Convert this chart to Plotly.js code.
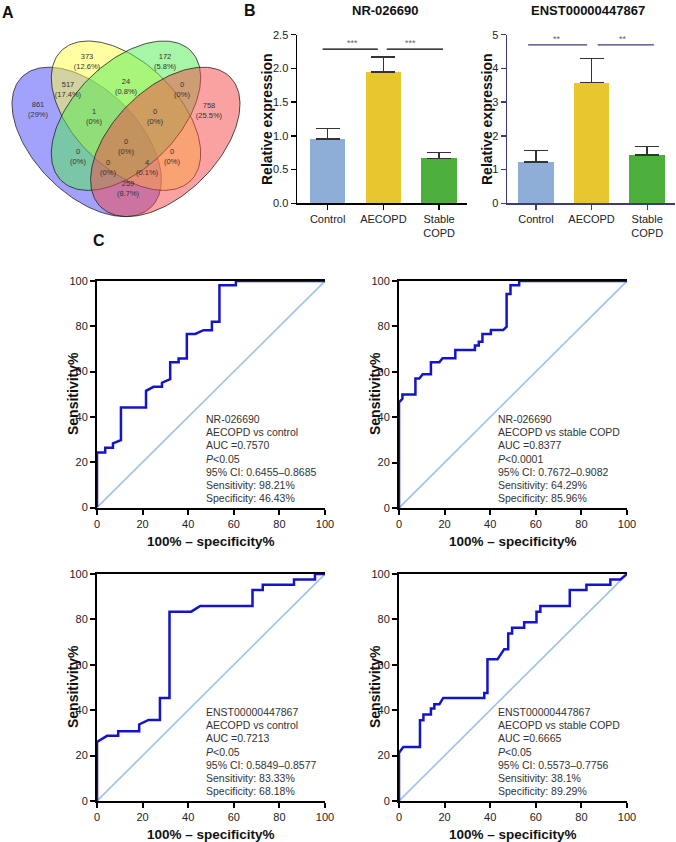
<!DOCTYPE html>
<html><head><meta charset="utf-8">
<script src="https://cdn.plot.ly/plotly-3.0.1.min.js"></script>
<style>html,body{margin:0;padding:0;background:#fff;}#chart{width:676px;height:842px;}</style>
</head><body><div id="chart"></div>
<script>
const W = 676, H = 842;

// ---------- Panel A: Venn data ----------
const vennCounts = [861, 373, 172, 758, 517, 24, 0, 1, 0, 0, 0, 0, 0, 4, 259];
const vennPercents = ['29%', '12.6%', '5.8%', '25.5%', '17.4%', '0.8%', '0%', '0%', '0%', '0%', '0%', '0%', '0%', '0.1%', '8.7%'];

// ---------- Panel B: bar data ----------
const barCategories = ['Control', 'AECOPD', 'Stable<br>COPD'];
const nrMeans = [0.953, 1.95, 0.667];
const nrErrors = [0.157, 0.22, 0.083];
const enstMeans = [1.22, 3.58, 1.43];
const enstErrors = [0.34, 0.72, 0.25];
const barColors = ['#8eaed8', '#e8c630', '#4caf3c'];

// ---------- Panel C: ROC data ----------
const roc1X = [0, 0, 3.6, 3.6, 7.0, 7.0, 10.5, 10.5, 21.5, 21.5, 24.8, 28.5, 28.5, 32.1, 32.1, 35.8, 35.8, 39.4, 39.4, 43.1, 46.7, 50.4, 50.4, 53.7, 53.7, 60.9, 60.9, 100];
const roc1Y = [0, 24.3, 24.3, 26.4, 26.4, 28.3, 29.7, 44.2, 44.2, 51.5, 53.3, 53.3, 55.1, 56.7, 64.1, 64.1, 65.8, 65.8, 76.6, 76.6, 78.3, 78.3, 82.0, 82.0, 98.1, 98.1, 100, 100];
const roc2X = [0, 0, 1.5, 1.5, 7.2, 7.2, 8.9, 10.4, 14.0, 14.0, 17.7, 19.1, 24.7, 24.7, 33.3, 33.3, 35.0, 35.0, 36.6, 36.6, 40.3, 40.3, 45.7, 47.2, 47.2, 48.9, 48.9, 52.7, 52.7, 100];
const roc2Y = [0, 46.5, 48.1, 50.0, 50.0, 57.0, 57.0, 58.9, 58.9, 64.2, 64.2, 66.0, 66.0, 69.6, 69.6, 71.6, 71.6, 73.2, 73.2, 76.7, 76.7, 78.4, 78.4, 79.9, 94.3, 94.3, 98.1, 98.1, 100, 100];
const roc3X = [0, 0, 4.4, 9.3, 9.3, 18.5, 18.5, 22.6, 27.6, 27.6, 31.8, 31.8, 41.3, 45.3, 68.2, 68.2, 72.7, 72.7, 86.4, 86.4, 95.6, 95.6, 100];
const roc3Y = [0, 26.0, 28.7, 28.7, 30.7, 30.7, 33.7, 35.7, 35.7, 45.4, 45.4, 83.4, 83.4, 85.9, 85.9, 92.9, 92.9, 95.3, 95.3, 97.6, 97.6, 100, 100];
const roc4X = [0, 0, 1.9, 9.2, 9.2, 10.7, 10.7, 14.0, 14.0, 15.5, 15.5, 17.7, 19.4, 37.4, 37.4, 38.8, 38.8, 43.2, 46.1, 47.9, 47.9, 49.6, 49.6, 54.9, 54.9, 60.3, 60.3, 62.0, 62.0, 74.9, 74.9, 82.2, 82.2, 92.7, 92.7, 97.1, 100];
const roc4Y = [0, 21.2, 23.8, 23.8, 35.6, 35.6, 38.1, 38.1, 40.7, 40.7, 42.6, 42.6, 45.4, 45.4, 47.6, 47.6, 62.4, 62.4, 66.8, 66.8, 73.8, 73.8, 76.3, 76.3, 78.7, 78.7, 83.4, 83.4, 85.9, 85.9, 92.9, 92.9, 95.3, 95.3, 97.6, 97.6, 100];
const refLine = [0, 100];
const rocTicks = [0, 20, 40, 60, 80, 100];

const roc1Text = ['NR-026690', 'AECOPD vs control', 'AUC =0.7570', '<i>P</i>&lt;0.05', '95% CI: 0.6455–0.8685', 'Sensitivity: 98.21%', 'Specificity: 46.43%'];
const roc2Text = ['NR-026690', 'AECOPD vs stable COPD', 'AUC =0.8377', '<i>P</i>&lt;0.0001', '95% CI: 0.7672–0.9082', 'Sensitivity: 64.29%', 'Specificity: 85.96%'];
const roc3Text = ['ENST00000447867', 'AECOPD vs control', 'AUC =0.7213', '<i>P</i>&lt;0.05', '95% CI: 0.5849–0.8577', 'Sensitivity: 83.33%', 'Specificity: 68.18%'];
const roc4Text = ['ENST00000447867', 'AECOPD vs stable COPD', 'AUC =0.6665', '<i>P</i>&lt;0.05', '95% CI: 0.5573–0.7756', 'Sensitivity: 38.1%', 'Specificity: 89.29%'];

// ---------- helpers (pixel -> paper) ----------
const FONT = 'Liberation Sans, Arial, sans-serif';
const px = x => x / W;
const py = y => 1 - y / H;
const domX = (a, b) => [px(a), px(b)];
const domY = (top, bottom) => [py(bottom), py(top)];

const traces = [];
const annotations = [];
const shapes = [];

// ---------- Venn (axes in pixel units, y negated so up is up) ----------
const vennEllipses = [
  {cx: 86.7, cy: 141.9, rot: 45, fill: 'rgba(70,70,250,0.5)'},
  {cx: 126, cy: 115.7, rot: 45, fill: 'rgba(255,255,70,0.5)'},
  {cx: 126, cy: 115.7, rot: -45, fill: 'rgba(80,235,80,0.5)'},
  {cx: 165.3, cy: 141.9, rot: -45, fill: 'rgba(245,70,70,0.5)'}
];
const EA = 91.7, EB = 52.4;
vennEllipses.forEach(e => {
  const xs = [], ys = [];
  const th = e.rot * Math.PI / 180;
  for (let i = 0; i <= 180; i++) {
    const t = i / 180 * 2 * Math.PI;
    xs.push(e.cx + EA * Math.cos(t) * Math.cos(th) - EB * Math.sin(t) * Math.sin(th));
    ys.push(-(e.cy + EA * Math.cos(t) * Math.sin(th) + EB * Math.sin(t) * Math.cos(th)));
  }
  traces.push({type: 'scatter', mode: 'lines', x: xs, y: ys, fill: 'toself', fillcolor: e.fill,
    line: {color: '#222', width: 0.8}, xaxis: 'x', yaxis: 'y', hoverinfo: 'skip', showlegend: false});
});
const vennLabelPos = [[38,110],[87,62],[165,62],[209,111],[68,90],[126,87],[182,90],[94,117],[155,117],[78,157],[126,147],[172,157],[108,168],[147,168],[128,189]];
traces.push({type: 'scatter', mode: 'text', xaxis: 'x', yaxis: 'y', showlegend: false, hoverinfo: 'skip',
  x: vennLabelPos.map(p => p[0]), y: vennLabelPos.map(p => -p[1]),
  text: vennCounts.map((c, i) => c + '<br>(' + vennPercents[i] + ')'),
  textfont: {family: FONT, size: 7.5, color: '#333'}, cliponaxis: false});

// ---------- Bars ----------
function addBars(means, errs, xa, ya) {
  traces.push({type: 'bar', x: [0, 1, 2], y: means, width: 0.64, xaxis: xa, yaxis: ya,
    marker: {color: barColors, line: {width: 0}}, showlegend: false, hoverinfo: 'skip',
    error_y: {type: 'data', symmetric: false, array: errs, arrayminus: [0, 0, 0], color: '#333', thickness: 1.5, width: 12}});
}
addBars(nrMeans, nrErrors, 'x2', 'y2');
addBars(enstMeans, enstErrors, 'x3', 'y3');

// significance lines
shapes.push({type: 'line', xref: 'x2', yref: 'y2', x0: -0.09, x1: 0.90, y0: 2.286, y1: 2.286, line: {color: '#000', width: 1.3}});
shapes.push({type: 'line', xref: 'x2', yref: 'y2', x0: 1.06, x1: 2.07, y0: 2.286, y1: 2.286, line: {color: '#000', width: 1.3}});
shapes.push({type: 'line', xref: 'x3', yref: 'y3', x0: -0.14, x1: 0.92, y0: 4.70, y1: 4.70, line: {color: '#3b3b7a', width: 1.3}});
shapes.push({type: 'line', xref: 'x3', yref: 'y3', x0: 1.11, x1: 2.12, y0: 4.70, y1: 4.70, line: {color: '#3b3b7a', width: 1.3}});
[[0.44, 2.38, 'x2', 'y2', '***'], [1.48, 2.38, 'x2', 'y2', '***'], [0.37, 4.88, 'x3', 'y3', '**'], [1.56, 4.88, 'x3', 'y3', '**']].forEach(s => {
  annotations.push({xref: s[2], yref: s[3], x: s[0], y: s[1], text: s[4], showarrow: false, font: {family: FONT, size: 9, color: '#666'}});
});

// ---------- ROC ----------
const rocSets = [
  {x: roc1X, y: roc1Y, xa: 'x4', ya: 'y4', text: roc1Text, tx: 204, ty: 419},
  {x: roc2X, y: roc2Y, xa: 'x5', ya: 'y5', text: roc2Text, tx: 496, ty: 419},
  {x: roc3X, y: roc3Y, xa: 'x6', ya: 'y6', text: roc3Text, tx: 204, ty: 712},
  {x: roc4X, y: roc4Y, xa: 'x7', ya: 'y7', text: roc4Text, tx: 496, ty: 712}
];
rocSets.forEach(r => {
  traces.push({type: 'scatter', mode: 'lines', x: refLine, y: refLine, xaxis: r.xa, yaxis: r.ya,
    line: {color: '#9cc3e8', width: 1.6}, showlegend: false, hoverinfo: 'skip'});
  traces.push({type: 'scatter', mode: 'lines', x: r.x, y: r.y, xaxis: r.xa, yaxis: r.ya,
    line: {color: '#1414c8', width: 2.5}, showlegend: false, hoverinfo: 'skip', cliponaxis: false});
  r.text.forEach((t, i) => {
    annotations.push({xref: 'paper', yref: 'paper', x: px(r.tx), y: py(r.ty + i * 13.2), xanchor: 'left', yanchor: 'middle',
      text: t, showarrow: false, font: {family: FONT, size: 10.5, color: '#333'}});
  });
});

// ---------- axis titles & labels ----------
function addText(x, y, text, size, opts) {
  annotations.push(Object.assign({xref: 'paper', yref: 'paper', x: px(x), y: py(y), text: text, showarrow: false,
    xanchor: 'center', yanchor: 'middle', font: {family: FONT, size: size, color: '#111'}}, opts || {}));
}
addText(8, 12, '<b>A</b>', 16);
addText(250, 10, '<b>B</b>', 16);
addText(99, 240, '<b>C</b>', 16);
addText(385, 10, '<b>NR-026690</b>', 13);
addText(588, 10, '<b>ENST00000447867</b>', 13);
addText(267, 119, '<b>Relative expression</b>', 14, {textangle: -90});
addText(487, 119, '<b>Relative expression</b>', 14, {textangle: -90});
addText(73, 394, '<b>Sensitivity%</b>', 14, {textangle: -90});
addText(375, 394, '<b>Sensitivity%</b>', 14, {textangle: -90});
addText(73, 687, '<b>Sensitivity%</b>', 14, {textangle: -90});
addText(375, 687, '<b>Sensitivity%</b>', 14, {textangle: -90});
addText(211, 541, '<b>100% – specificity%</b>', 13.5);
addText(513, 541, '<b>100% – specificity%</b>', 13.5);
addText(211, 834, '<b>100% – specificity%</b>', 13.5);
addText(513, 834, '<b>100% – specificity%</b>', 13.5);

// ---------- layout ----------
const tickFont = {family: FONT, size: 11, color: '#222'};
function hidden(dom, range) {
  return {domain: dom, range: range, autorange: false, visible: false, showgrid: false, zeroline: false, fixedrange: true};
}
function barX(dom, range, col) {
  return {domain: dom, range: range, autorange: false, tickvals: [0, 1, 2], ticktext: barCategories, ticks: 'outside', ticklen: 5, tickwidth: 1.3,
    tickcolor: col, showline: true, linecolor: col, linewidth: 1.5, showgrid: false, zeroline: false, tickfont: tickFont, fixedrange: true};
}
function barY(dom, range, dtick, fmt, col) {
  return {domain: dom, range: range, autorange: false, dtick: dtick, tickformat: fmt, ticks: 'outside', ticklen: 5, tickwidth: 1.3, tickcolor: col,
    showline: true, linecolor: col, linewidth: 1.5, showgrid: false, zeroline: false, tickfont: tickFont, fixedrange: true};
}
function rocAx(dom, mirror) {
  return {domain: dom, range: [0, 100], autorange: false, tickvals: rocTicks, ticks: 'outside', ticklen: 5, tickwidth: 2, tickcolor: '#000',
    showline: true, linecolor: '#000', linewidth: 2, mirror: mirror, showgrid: false, zeroline: false, tickfont: tickFont, fixedrange: true};
}

const layout = {
  width: W, height: H, margin: {l: 0, r: 0, t: 0, b: 0}, paper_bgcolor: '#fff', plot_bgcolor: 'rgba(0,0,0,0)',
  showlegend: false, font: {family: FONT},
  xaxis: hidden(domX(0, 250), [0, 250]),
  yaxis: hidden(domY(30, 222), [-222, -30]),
  xaxis2: barX(domX(297, 467), [-0.55, 2.5], '#000'),
  yaxis2: barY(domY(34.7, 203.3), [0, 2.5], 0.5, '.1f', '#000'),
  xaxis3: barX(domX(507, 675), [-0.52, 2.5], '#3b3b7a'),
  yaxis3: barY(domY(34.7, 203.3), [0, 5], 1, 'd', '#3b3b7a'),
  xaxis4: rocAx(domX(97, 325), true), yaxis4: rocAx(domY(281, 507.5), false),
  xaxis5: rocAx(domX(399, 627), true), yaxis5: rocAx(domY(281, 508), false),
  xaxis6: rocAx(domX(97, 325), true), yaxis6: rocAx(domY(574, 801), false),
  xaxis7: rocAx(domX(399, 627), true), yaxis7: rocAx(domY(574, 801), false),
  annotations: annotations, shapes: shapes, bargap: 0
};
layout.yaxis2.anchor = 'x2'; layout.xaxis2.anchor = 'y2';
layout.yaxis3.anchor = 'x3'; layout.xaxis3.anchor = 'y3';
['4', '5', '6', '7'].forEach(k => { layout['xaxis' + k].anchor = 'y' + k; layout['yaxis' + k].anchor = 'x' + k; });
layout.xaxis.anchor = 'y'; layout.yaxis.anchor = 'x';

Plotly.newPlot('chart', traces, layout, {displayModeBar: false, staticPlot: true});
</script>
</body></html>
